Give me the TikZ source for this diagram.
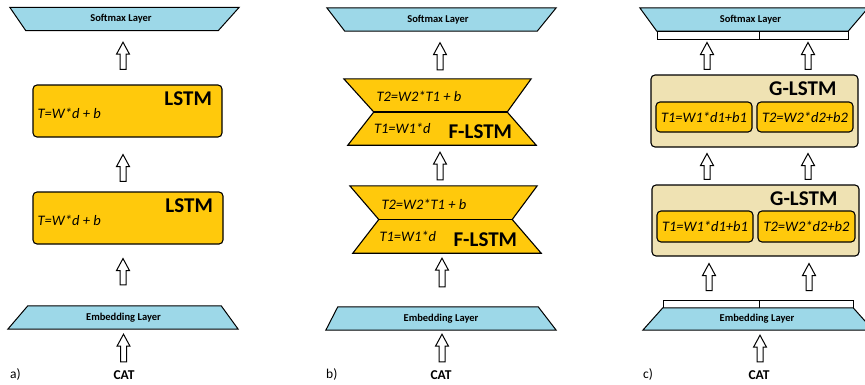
\documentclass[tikz,border=0pt]{standalone}
\usepackage{fontspec}
\setmainfont{Carlito}
\usetikzlibrary{calc}

\definecolor{layerblue}{HTML}{9DD8E8}
\definecolor{cellyellow}{HTML}{FFC90C}
\definecolor{celltan}{HTML}{EFE2B3}

% hollow upward block arrow from tail #1 to tip #2
\newcommand\hollowup[2]{%
  \draw[blockarrow] let \p1=(#1), \p2=(#2) in
    (\x2-3pt,\y1) -- (\x2-3pt,\y2-12pt) -- (\x2-6.5pt,\y2-12pt) -- (\x2,\y2)
    -- (\x2+6.5pt,\y2-12pt) -- (\x2+3pt,\y2-12pt) -- (\x2+3pt,\y1) -- cycle;}

\tikzset{
  layerbox/.style={rectangle, inner sep=0pt, font=\bfseries\fontsize{10.5}{12}\selectfont},
  layershape/.style={draw=black, fill=layerblue, line width=1pt, line join=miter},
  cellbox/.style={rectangle, draw=black, fill=cellyellow, rounded corners=4pt, line width=1.1pt, inner sep=0pt},
  groupbox/.style={rectangle, draw=black, fill=celltan, rounded corners=4pt, line width=1.1pt, inner sep=0pt},
  subcell/.style={cellbox, font=\itshape\fontsize{14.5}{16}\selectfont},
  fshape/.style={draw=black, fill=cellyellow, line width=1.1pt, line join=miter},
  hidden/.style={rectangle, inner sep=0pt},
  barcell/.style={rectangle, draw=black, fill=white, line width=1pt, inner sep=0pt},
  eqtext/.style={inner sep=0pt, anchor=base west, font=\itshape\fontsize{14.5}{16}\selectfont},
  celltitle/.style={inner sep=0pt, anchor=base east, font=\bfseries\fontsize{21}{24}\selectfont},
  inputword/.style={inner sep=0pt, anchor=base, font=\bfseries\fontsize{13.5}{15}\selectfont},
  panelname/.style={inner sep=0pt, anchor=base west, font=\fontsize{13.5}{15}\selectfont},
  blockarrow/.style={draw=black, fill=white, line width=1pt, line join=miter},
}

\begin{document}
\begin{tikzpicture}[x=1pt,y=-1pt]
\useasboundingbox (0,0) rectangle (865,384);
\clip (0,0) rectangle (865,384);

% ---------------- a) stacked LSTM ----------------
\node[layerbox, minimum width=192pt, minimum height=23pt] (smA) at (122,19) {};
\path[layershape] (smA.south west) -- (smA.south east) -- ($(smA.north east)+(21,0)$) -- ($(smA.north west)+(-16,0)$) -- cycle;
\node[layerbox] (smAt) at (121,19) {Softmax Layer};

\node[cellbox, minimum width=189pt, minimum height=52pt] (la1) at (127.5,111) {};
\node[celltitle] (la1t) at ($(la1.north east)+(-10.5,21)$) {LSTM};
\node[eqtext] (la1e) at ($(la1.north west)+(5,34.5)$) {T=W*d + b};

\node[cellbox, minimum width=190pt, minimum height=52pt] (la2) at (128,218) {};
\node[celltitle] (la2t) at ($(la2.north east)+(-10.5,21)$) {LSTM};
\node[eqtext] (la2e) at ($(la2.north west)+(5,34.5)$) {T=W*d + b};

\node[layerbox, minimum width=193pt, minimum height=23pt] (emA) at (124.5,317.5) {};
\path[layershape] (emA.north west) -- (emA.north east) -- ($(emA.south east)+(17,0)$) -- ($(emA.south west)+(-20,0)$) -- cycle;
\node[layerbox] (emAt) at (123.5,317.5) {Embedding Layer};

\node[inputword] (catA) at (124,379) {CAT};
\node[panelname] (pa) at (10,378) {a)};

\hollowup{$(la1.north)+(0,-15)$}{$(smA.south)+(1,11.5)$}
\hollowup{$(la2.north)+(0,-10)$}{$(la1.south)+(-4.5,17)$}
\hollowup{$(emA.north)+(0,-21)$}{$(la2.south)+(-5,14)$}
\hollowup{$(catA.north)+(0,-8)$}{$(emA.south)+(-1,5)$}

% ---------------- b) F-LSTM ----------------
\node[layerbox, minimum width=192pt, minimum height=23pt] (smB) at (441,19.5) {};
\path[layershape] (smB.south west) -- (smB.south east) -- ($(smB.north east)+(19,0)$) -- ($(smB.north west)+(-18,0)$) -- cycle;
\node[layerbox] (smBt) at (438,19.5) {Softmax Layer};

\node[hidden, minimum width=133pt, minimum height=66pt] (fb1) at (440.5,112) {};
\path[fshape] ($(fb1.north west)+(-30,0)$) -- ($(fb1.north east)+(24,0)$) -- (fb1.east)
  -- ($(fb1.south east)+(29,0)$) -- ($(fb1.south west)+(-26,0)$) -- (fb1.west) -- cycle;
\draw[fshape] (fb1.west) -- (fb1.east);
\node[eqtext] (fb1a) at ($(fb1.north west)+(2.5,22.5)$) {T2=W2*T1 + b};
\node[eqtext] (fb1b) at ($(fb1.north west)+(0,54.5)$) {T1=W1*d};
\node[celltitle] (fb1t) at ($(fb1.north east)+(5,59.5)$) {F-LSTM};

\node[hidden, minimum width=133pt, minimum height=67pt] (fb2) at (445.5,219.5) {};
\path[fshape] ($(fb2.north west)+(-29,0)$) -- ($(fb2.north east)+(25,0)$) -- (fb2.east)
  -- ($(fb2.south east)+(29,0)$) -- ($(fb2.south west)+(-26,0)$) -- (fb2.west) -- cycle;
\draw[fshape] (fb2.west) -- (fb2.east);
\node[eqtext] (fb2a) at ($(fb2.north west)+(2.5,23.5)$) {T2=W2*T1 + b};
\node[eqtext] (fb2b) at ($(fb2.north west)+(0.5,55.5)$) {T1=W1*d};
\node[celltitle] (fb2t) at ($(fb2.north east)+(5,60.5)$) {F-LSTM};

\node[layerbox, minimum width=200pt, minimum height=23pt] (emB) at (438,318.5) {};
\path[layershape] (emB.north west) -- (emB.north east) -- ($(emB.south east)+(18,0)$) -- ($(emB.south west)+(-12,0)$) -- cycle;
\node[layerbox] (emBt) at (441,318.5) {Embedding Layer};

\node[inputword] (catB) at (441,379) {CAT};
\node[panelname] (pb) at (326,378) {b)};

\hollowup{$(fb1.north)+(0,-9)$}{$(smB.south)+(-1,11.5)$}
\hollowup{$(fb2.north)+(0,-6)$}{$(fb1.south)+(-0.5,7)$}
\hollowup{$(emB.north)+(0,-20)$}{$(fb2.south)+(-3.5,5)$}
\hollowup{$(catB.north)+(0,-8)$}{$(emB.south)+(4,4)$}

% ---------------- c) G-LSTM ----------------
\node[layerbox, minimum width=191pt, minimum height=23pt] (smC) at (752.5,19.5) {};
\path[layershape] (smC.south west) -- (smC.south east) -- ($(smC.north east)+(20,0)$) -- ($(smC.north west)+(-17,0)$) -- cycle;
\node[layerbox] (smCt) at (750.5,19.5) {Softmax Layer};
\node[barcell, minimum width=102pt, minimum height=8pt] (btL) at (708,35) {};
\node[barcell, minimum width=89pt, minimum height=8pt] (btR) at (803.5,35) {};

\node[groupbox, minimum width=207pt, minimum height=72pt] (gc1) at (754.5,111) {};
\node[celltitle] (gc1t) at ($(gc1.north east)+(-22,21)$) {G-LSTM};
\node[subcell, minimum width=96pt, minimum height=30pt] (g1L) at (704,117) {T1=W1*d1+b1};
\node[subcell, minimum width=96pt, minimum height=30pt] (g1R) at (805,117) {T2=W2*d2+b2};

\node[groupbox, minimum width=207pt, minimum height=71pt] (gc2) at (755.5,220.5) {};
\node[celltitle] (gc2t) at ($(gc2.north east)+(-22,21)$) {G-LSTM};
\node[subcell, minimum width=96pt, minimum height=31pt] (g2L) at (705,226.5) {T1=W1*d1+b1};
\node[subcell, minimum width=97pt, minimum height=31pt] (g2R) at (806.5,226.5) {T2=W2*d2+b2};

\node[barcell, minimum width=96pt, minimum height=8pt] (bbL) at (711,304) {};
\node[barcell, minimum width=94pt, minimum height=8pt] (bbR) at (806,304) {};
\node[layerbox, minimum width=190pt, minimum height=22pt] (emC) at (758,319) {};
\path[layershape] (emC.north west) -- (emC.north east) -- ($(emC.south east)+(20,0)$) -- ($(emC.south west)+(-20,0)$) -- cycle;
\node[layerbox] (emCt) at (757,319) {Embedding Layer};

\node[inputword] (catC) at (759,379) {CAT};
\node[panelname] (pc) at (643,378) {c)};

\hollowup{$(gc1.north)+(0,-5)$}{$(btL.south)+(-1,3)$}
\hollowup{$(gc1.north)+(0,-5)$}{$(btR.south)+(4.5,3)$}
\hollowup{$(gc2.north)+(0,-5)$}{$(gc1.south)+(-47.5,6)$}
\hollowup{$(gc2.north)+(0,-5)$}{$(gc1.south)+(53.5,6)$}
\hollowup{$(bbL.north)+(0,-9)$}{$(gc2.south)+(-46.5,7)$}
\hollowup{$(bbR.north)+(0,-9)$}{$(gc2.south)+(53.5,7)$}
\hollowup{$(catC.north)+(0,-8)$}{$(emC.south)+(2,5)$}
\end{tikzpicture}
\end{document}
